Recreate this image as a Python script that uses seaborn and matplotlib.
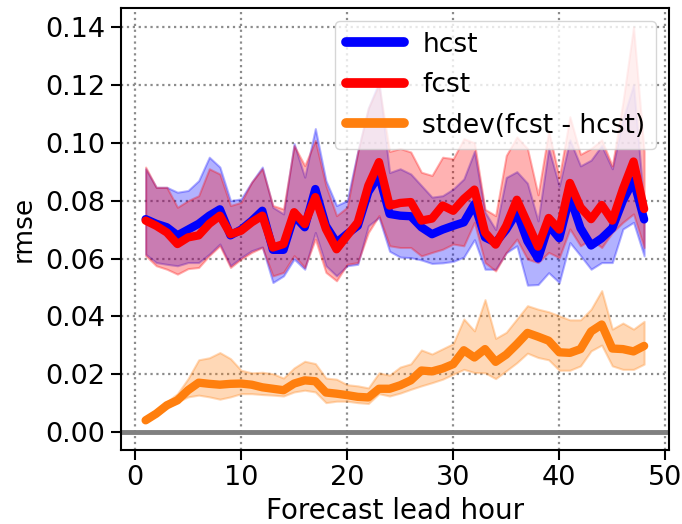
import matplotlib
matplotlib.use("Agg")
import matplotlib.pyplot as plt
import numpy as np
import pandas as pd
import seaborn as sns

# ---------------- data ----------------
lead_hours = list(range(1, 49))

hcst_mean = [0.0736, 0.0720, 0.0708, 0.0680, 0.0700, 0.0720, 0.0748, 0.0770, 0.0680, 0.0700,
             0.0730, 0.0765, 0.0630, 0.0630, 0.0748, 0.0708, 0.0840, 0.0713, 0.0655, 0.0685,
             0.0713, 0.0830, 0.0887, 0.0754, 0.0748, 0.0746, 0.0708, 0.0684, 0.0700, 0.0713,
             0.0725, 0.0788, 0.0673, 0.0655, 0.0700, 0.0760, 0.0660, 0.0600, 0.0715, 0.0670,
             0.0815, 0.0705, 0.0645, 0.0670, 0.0705, 0.0800, 0.0870, 0.0735]
hcst_hi = [0.0910, 0.0846, 0.0846, 0.0829, 0.0835, 0.0869, 0.0950, 0.0916, 0.0800, 0.0806,
           0.0864, 0.0916, 0.0777, 0.0754, 0.0997, 0.0881, 0.1049, 0.0869, 0.0783, 0.0800,
           0.0970, 0.1120, 0.1210, 0.0897, 0.0910, 0.0892, 0.0852, 0.0812, 0.0817, 0.0840,
           0.0875, 0.0970, 0.0760, 0.0700, 0.0880, 0.0900, 0.0860, 0.0730, 0.0980, 0.0850,
           0.1010, 0.0920, 0.0940, 0.0990, 0.0910, 0.1080, 0.1200, 0.0780]
hcst_lo = [0.0615, 0.0586, 0.0580, 0.0575, 0.0586, 0.0586, 0.0615, 0.0650, 0.0575, 0.0603,
           0.0627, 0.0640, 0.0517, 0.0540, 0.0598, 0.0563, 0.0690, 0.0575, 0.0540, 0.0575,
           0.0580, 0.0713, 0.0742, 0.0625, 0.0605, 0.0603, 0.0595, 0.0583, 0.0585, 0.0590,
           0.0605, 0.0665, 0.0563, 0.0563, 0.0620, 0.0644, 0.0508, 0.0510, 0.0551, 0.0517,
           0.0655, 0.0610, 0.0563, 0.0586, 0.0586, 0.0702, 0.0725, 0.0609]

fcst_mean = [0.0731, 0.0713, 0.0690, 0.0650, 0.0673, 0.0680, 0.0720, 0.0748, 0.0684, 0.0696,
             0.0725, 0.0748, 0.0638, 0.0650, 0.0760, 0.0719, 0.0812, 0.0702, 0.0632, 0.0679,
             0.0725, 0.0852, 0.0933, 0.0783, 0.0792, 0.0795, 0.0731, 0.0738, 0.0783, 0.0765,
             0.0806, 0.0838, 0.0690, 0.0648, 0.0713, 0.0803, 0.0722, 0.0641, 0.0740, 0.0700,
             0.0861, 0.0777, 0.0736, 0.0785, 0.0731, 0.0840, 0.0935, 0.0771]
fcst_hi = [0.0916, 0.0846, 0.0846, 0.0777, 0.0800, 0.0817, 0.0910, 0.0892, 0.0783, 0.0794,
           0.0864, 0.0910, 0.0783, 0.0771, 0.0990, 0.0921, 0.1008, 0.0852, 0.0748, 0.0777,
           0.0968, 0.1120, 0.1200, 0.0970, 0.0980, 0.0968, 0.0898, 0.0887, 0.0950, 0.0945,
           0.1014, 0.1000, 0.0770, 0.0748, 0.0956, 0.1020, 0.0980, 0.0820, 0.1040, 0.0880,
           0.1090, 0.0960, 0.0980, 0.1010, 0.0920, 0.1140, 0.1400, 0.0970]
fcst_lo = [0.0610, 0.0575, 0.0563, 0.0546, 0.0565, 0.0569, 0.0610, 0.0644, 0.0569, 0.0598,
           0.0621, 0.0638, 0.0540, 0.0552, 0.0610, 0.0569, 0.0667, 0.0552, 0.0523, 0.0580,
           0.0586, 0.0690, 0.0748, 0.0644, 0.0638, 0.0638, 0.0609, 0.0621, 0.0632, 0.0650,
           0.0644, 0.0725, 0.0586, 0.0557, 0.0621, 0.0667, 0.0598, 0.0586, 0.0621, 0.0603,
           0.0702, 0.0644, 0.0667, 0.0638, 0.0690, 0.0725, 0.0754, 0.0638]

stdev_mean = [0.0041, 0.0064, 0.0093, 0.0110, 0.0145, 0.0171, 0.0167, 0.0164, 0.0167, 0.0168,
              0.0164, 0.0155, 0.0150, 0.0145, 0.0168, 0.0179, 0.0176, 0.0137, 0.0133, 0.0128,
              0.0122, 0.0120, 0.0150, 0.0150, 0.0162, 0.0179, 0.0213, 0.0210, 0.0220, 0.0235,
              0.0283, 0.0258, 0.0287, 0.0243, 0.0268, 0.0304, 0.0343, 0.0330, 0.0316, 0.0276,
              0.0274, 0.0287, 0.0348, 0.0372, 0.0289, 0.0287, 0.0279, 0.0298]
stdev_hi = [0.0045, 0.0072, 0.0105, 0.0133, 0.0185, 0.0250, 0.0257, 0.0275, 0.0254, 0.0214,
            0.0205, 0.0207, 0.0202, 0.0187, 0.0222, 0.0245, 0.0237, 0.0187, 0.0183, 0.0164,
            0.0160, 0.0153, 0.0205, 0.0197, 0.0225, 0.0236, 0.0284, 0.0270, 0.0288, 0.0306,
            0.0391, 0.0350, 0.0458, 0.0324, 0.0345, 0.0391, 0.0437, 0.0425, 0.0416, 0.0402,
            0.0388, 0.0388, 0.0425, 0.0489, 0.0356, 0.0377, 0.0356, 0.0383]
stdev_lo = [0.0036, 0.0056, 0.0082, 0.0105, 0.0122, 0.0128, 0.0122, 0.0114, 0.0122, 0.0133,
            0.0133, 0.0130, 0.0128, 0.0125, 0.0139, 0.0145, 0.0139, 0.0102, 0.0107, 0.0107,
            0.0102, 0.0099, 0.0133, 0.0125, 0.0135, 0.0148, 0.0160, 0.0171, 0.0183, 0.0200,
            0.0217, 0.0206, 0.0205, 0.0185, 0.0212, 0.0240, 0.0273, 0.0258, 0.0250, 0.0214,
            0.0214, 0.0229, 0.0281, 0.0301, 0.0229, 0.0217, 0.0217, 0.0235]

series_names = ["hcst", "fcst", "stdev(fcst - hcst)"]
series_colors = ["#0000ff", "#ff0000", "#ff7f0e"]
x_ticks = [0, 10, 20, 30, 40, 50]
y_ticks = [0.0, 0.02, 0.04, 0.06, 0.08, 0.10, 0.12, 0.14]

# ---------------- style ----------------
sns.set_style("ticks")
plt.rcParams['font.family'] = ['DejaVu Sans']
plt.rcParams['text.color'] = 'black'
plt.rcParams['axes.labelcolor'] = 'black'

fig = plt.figure(figsize=(6.82, 5.24), dpi=100)
ax = fig.add_axes([0.177, 0.141, 0.804, 0.844])

means = [hcst_mean, fcst_mean, stdev_mean]
his = [hcst_hi, fcst_hi, stdev_hi]
los = [hcst_lo, fcst_lo, stdev_lo]

ax.axhline(0, color="gray", lw=3.5, zorder=1)

for lo, hi, c in zip(los, his, series_colors):
    ax.fill_between(lead_hours, lo, hi, color=c, alpha=0.3, lw=1.5, zorder=2)

df = pd.concat([
    pd.DataFrame({"lead": lead_hours, "rmse": m, "series": n})
    for m, n in zip(means, series_names)
], ignore_index=True)

sns.lineplot(data=df, x="lead", y="rmse", hue="series", hue_order=series_names,
             palette=dict(zip(series_names, series_colors)), lw=6, ax=ax, zorder=3,
             legend=True)

ax.set_xlim(-1.35, 50.35)
ax.set_ylim(-0.0062, 0.1466)
ax.set_xticks(x_ticks)
ax.set_yticks(y_ticks)
ax.yaxis.set_major_formatter(matplotlib.ticker.FormatStrFormatter("%.2f"))
ax.grid(True, ls=":", color="#8c8c8c", lw=1.6)
ax.set_axisbelow(True)
ax.set_xlabel("Forecast lead hour", fontsize=20, labelpad=4, color="black")
ax.set_ylabel("rmse", fontsize=19, labelpad=6, color="black")
ax.tick_params(axis="both", labelsize=19.5, length=7, width=1.5, direction="out",
               colors="black", pad=4)
for s in ax.spines.values():
    s.set_color("black")
    s.set_linewidth(1.5)

leg = ax.legend(loc="upper right", fontsize=19, framealpha=0.8, handlelength=2.2,
                handletextpad=0.7, labelspacing=0.55, borderaxespad=0.5)
for line in leg.get_lines():
    line.set_linewidth(7)
for t in leg.get_texts():
    t.set_color("black")

fig.savefig("out.png", dpi=100)
